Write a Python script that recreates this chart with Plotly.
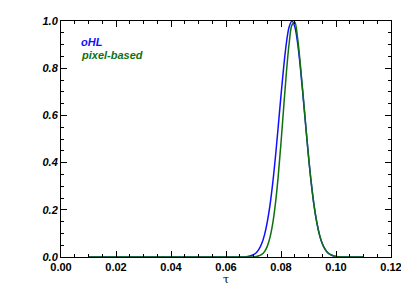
import plotly.graph_objects as go

# tau values (x) and normalized distributions
tau = [0.010, 0.060, 0.066, 0.067, 0.068, 0.069, 0.070, 0.071, 0.072, 0.073, 0.074,
       0.075, 0.076, 0.077, 0.078, 0.079, 0.080, 0.081, 0.082, 0.083, 0.084,
       0.085, 0.086, 0.087, 0.088, 0.089, 0.090, 0.091, 0.092, 0.093, 0.094,
       0.095, 0.096, 0.097, 0.098, 0.099, 0.100, 0.101, 0.102, 0.104, 0.110]

ohl = [0.0, 0.0, 0.0, 0.0005, 0.0024, 0.0049, 0.0098, 0.018, 0.033, 0.057, 0.094,
       0.148, 0.220, 0.314, 0.427, 0.554, 0.685, 0.808, 0.910, 0.977, 1.000,
       0.977, 0.910, 0.808, 0.685, 0.554, 0.427, 0.314, 0.220, 0.148, 0.094,
       0.057, 0.033, 0.018, 0.010, 0.005, 0.002, 0.001, 0.0, 0.0, 0.0]

pixel = [0.0, 0.0, 0.0, 0.0, 0.0, 0.0, 0.0003, 0.002, 0.005, 0.011, 0.023,
         0.045, 0.083, 0.142, 0.229, 0.344, 0.484, 0.638, 0.787, 0.909, 0.984,
         0.995, 0.930, 0.820, 0.690, 0.556, 0.427, 0.314, 0.220, 0.148, 0.094,
         0.057, 0.033, 0.018, 0.010, 0.005, 0.002, 0.001, 0.0, 0.0, 0.0]

series_names = ["oHL", "pixel-based"]
series_colors = ["#1010ff", "#107010"]

x_ticks = [0.00, 0.02, 0.04, 0.06, 0.08, 0.10, 0.12]
y_ticks = [0.0, 0.2, 0.4, 0.6, 0.8, 1.0]

fig = go.Figure()
fig.add_trace(go.Scatter(x=tau, y=ohl, mode="lines", name=series_names[0],
                         line=dict(color=series_colors[0], width=1.5), line_shape="spline"))
fig.add_trace(go.Scatter(x=tau, y=pixel, mode="lines", name=series_names[1],
                         line=dict(color=series_colors[1], width=1.5), line_shape="spline"))

font_fam = "Liberation Sans, Arial, sans-serif"

# the page body adds an 8px offset, so the figure is sized to fit inside the window
fig.update_layout(
    width=401, height=292,
    margin=dict(l=53, r=18, t=13, b=43, autoexpand=False),
    paper_bgcolor="white", plot_bgcolor="white",
    showlegend=False,
    font=dict(family=font_fam, color="black", size=11),
    xaxis=dict(range=[0, 0.12], tickvals=x_ticks, tickformat=".2f",
               ticks="inside", ticklen=6, tickwidth=1, tickcolor="black",
               showline=True, linecolor="black", linewidth=1, mirror="ticks",
               showgrid=False, zeroline=False, automargin=False,
               minor=dict(dtick=0.005, tick0=0, ticks="inside", ticklen=3, tickcolor="black", showgrid=False),
               tickfont=dict(family=font_fam, size=11, weight="bold"),
               title=dict(text="τ", font=dict(family="DejaVu Serif, serif", size=11), standoff=2)),
    yaxis=dict(range=[0, 1.0], tickvals=y_ticks, tickformat=".1f",
               ticks="inside", ticklen=6, tickwidth=1, tickcolor="black",
               showline=True, linecolor="black", linewidth=1, mirror="ticks",
               showgrid=False, zeroline=False, automargin=False,
               minor=dict(dtick=0.05, tick0=0, ticks="inside", ticklen=3, tickcolor="black", showgrid=False),
               tickfont=dict(family=font_fam, size=11, weight="bold", style="italic")),
)

fig.add_annotation(xref="paper", yref="paper", x=0.054, y=0.911, xanchor="left", yanchor="middle",
                   text=series_names[0], showarrow=False,
                   font=dict(family=font_fam, size=11, color=series_colors[0], weight="bold", style="italic"))
fig.add_annotation(xref="paper", yref="paper", x=0.054, y=0.856, xanchor="left", yanchor="middle",
                   text=series_names[1], showarrow=False,
                   font=dict(family=font_fam, size=11, color=series_colors[1], weight="bold", style="italic"))

fig.write_html("out.html")
